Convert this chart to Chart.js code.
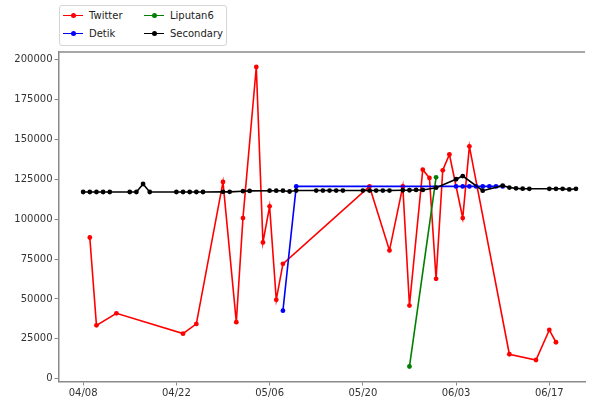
<!DOCTYPE html>
<html><head><meta charset="utf-8">
<script src="https://cdn.jsdelivr.net/npm/chart.js@4.4.0/dist/chart.umd.min.js"></script>
<style>
html,body{margin:0;padding:0;background:#fff;overflow:hidden;}
#wrap{position:relative;width:589px;height:404px;}
#c{display:block;}
#legend{position:absolute;left:59px;top:5px;width:168px;height:41px;border:1px solid #d4d4d4;border-radius:3px;background:#fff;font-family:"DejaVu Sans";font-size:10px;color:#222;box-sizing:border-box;}
.item{position:absolute;height:12px;display:flex;align-items:center;white-space:nowrap;}
.sw{position:relative;width:20px;height:12px;margin-right:6px;}
.sw .ln{position:absolute;left:0;right:0;top:5.25px;height:1.5px;}
.sw .dt{position:absolute;left:7.5px;top:3.5px;width:5px;height:5px;border-radius:50%;}
</style></head>
<body>
<div id="wrap"><canvas id="c" width="589" height="404"></canvas><div id="legend"></div></div>
<script>
// ---- data ----
const seriesNames = ['Twitter', 'Detik', 'Liputan6', 'Secondary'];
const seriesColors = ['#ff0000', '#0000ff', '#008000', '#000000'];

const twitterDates = ['04/09','04/10','04/13','04/23','04/25','04/29','05/01','05/02','05/04','05/05','05/06','05/07','05/08','05/21','05/24','05/26','05/27','05/29','05/30','05/31','06/01','06/02','06/04','06/05','06/11','06/15','06/17','06/18'];
const twitterValues = [88500,33500,41000,28300,34400,123300,35500,100700,195300,85400,108000,49500,72000,120500,80400,120500,45900,131000,125800,62600,130600,140500,100700,145600,15400,11800,30600,22900];

const detikDates = ['05/08','05/10','06/03','06/04','06/05','06/06','06/07','06/08','06/09','06/10'];
const detikValues = [42700,120500,120500,120500,120500,120500,120500,120500,120500,120500];

const liputanDates = ['05/27','05/31'];
const liputanValues = [7700,126200];

const secondaryDates = ['04/08','04/09','04/10','04/11','04/12','04/15','04/16','04/17','04/18','04/22','04/23','04/24','04/25','04/26','04/29','04/30','05/02','05/03','05/06','05/07','05/08','05/09','05/10','05/13','05/14','05/15','05/16','05/17','05/20','05/21','05/22','05/23','05/24','05/26','05/27','05/28','05/29','05/31','06/03','06/04','06/07','06/10','06/11','06/12','06/13','06/14','06/17','06/18','06/19','06/20','06/21'];
const secondaryValues = [117000,117000,117000,117000,117000,117000,117000,122000,117000,117000,117000,117000,117000,117000,117100,117100,117500,117700,117800,117800,117800,117300,117900,117900,117900,117900,117900,117900,117900,117900,117900,117900,117900,118100,118100,118300,118300,119700,125000,127000,117800,121000,119800,119300,119100,119000,119000,119000,119000,118600,119000];

const xTickLabels = ['04/08','04/22','05/06','05/20','06/03','06/17'];
const yTickValues = [0,25000,50000,75000,100000,125000,150000,175000,200000];

// ---- helpers ----
function toDay(s){const [m,d]=s.split('/').map(Number);return (Date.UTC(2019,m-1,d)-Date.UTC(2019,3,8))/86400000;}
function dayLabel(v){const dt=new Date(Date.UTC(2019,3,8)+v*86400000);return String(dt.getUTCMonth()+1).padStart(2,'0')+'/'+String(dt.getUTCDate()).padStart(2,'0');}
function pts(dates,vals){return dates.map((d,i)=>({x:toDay(d),y:vals[i]}));}

const allDates = [twitterDates,detikDates,liputanDates,secondaryDates];
const allVals = [twitterValues,detikValues,liputanValues,secondaryValues];

const datasets = seriesNames.map((n,i)=>({
  label:n,
  data:pts(allDates[i],allVals[i]),
  borderColor:seriesColors[i],
  backgroundColor:seriesColors[i],
  borderWidth:1.6,
  pointRadius:2.4,
  pointBorderWidth:0,
  pointBackgroundColor:seriesColors[i],
  tension:0,
  order:seriesNames.length-1-i
}));

const xTickVals = xTickLabels.map(toDay);
const frameColor = '#8a8a8a';

const topFrame = {
  id:'topFrame',
  afterDraw(chart){
    const a=chart.chartArea, ctx=chart.ctx;
    ctx.save();ctx.strokeStyle=frameColor;ctx.lineWidth=1.5;
    ctx.beginPath();ctx.moveTo(a.left,a.top);ctx.lineTo(a.right,a.top);ctx.stroke();
    ctx.restore();
  }
};

const chart = new Chart(document.getElementById('c'),{
  type:'line',
  data:{datasets},
  options:{
    responsive:false,animation:false,devicePixelRatio:1,
    layout:{padding:{top:52,left:0,right:0,bottom:0}},
    plugins:{legend:{display:false},tooltip:{enabled:false}},
    scales:{
      x:{type:'linear',min:-3.7,max:75.36,
        afterBuildTicks(ax){ax.ticks=xTickVals.map(v=>({value:v}));},
        afterFit(ax){ax.height=22.5;},
        grid:{display:true,drawOnChartArea:false,drawTicks:true,tickLength:4,color:frameColor,lineWidth:1},
        border:{display:true,color:frameColor,width:1.5},
        ticks:{callback:v=>dayLabel(v),maxRotation:0,autoSkip:false,padding:2,color:'#333',font:{family:'DejaVu Sans',size:10}}
      },
      y:{type:'linear',min:-1680,max:204680,
        afterBuildTicks(ax){ax.ticks=yTickValues.map(v=>({value:v}));},
        afterFit(ax){ax.width=58.5;},
        grid:{display:true,drawOnChartArea:false,drawTicks:true,tickLength:4,color:frameColor,lineWidth:1},
        border:{display:true,color:frameColor,width:1.5},
        ticks:{callback:v=>String(v),padding:2,color:'#333',font:{family:'DejaVu Sans',size:10}}
      }
    }
  },
  plugins:[topFrame]
});

// stretch plot area to the right edge of the canvas, like the cropped reference
const gap = chart.width - chart.chartArea.right;
if (gap > 0.5) { chart.options.layout.padding.right = -gap; chart.update('none'); }

// ---- legend (2 columns, column-major like the reference) ----
const lg=document.getElementById('legend');
const colX=[3,84], rowY=[3.5,21.5];
chart.data.datasets.forEach((ds,i)=>{
  const col=Math.floor(i/2), row=i%2;
  const it=document.createElement('div');it.className='item';
  it.style.left=colX[col]+'px';it.style.top=rowY[row]+'px';
  it.innerHTML='<span class="sw"><span class="ln" style="background:'+ds.borderColor+'"></span><span class="dt" style="background:'+ds.borderColor+'"></span></span><span>'+ds.label+'</span>';
  lg.appendChild(it);
});
</script>
</body></html>
